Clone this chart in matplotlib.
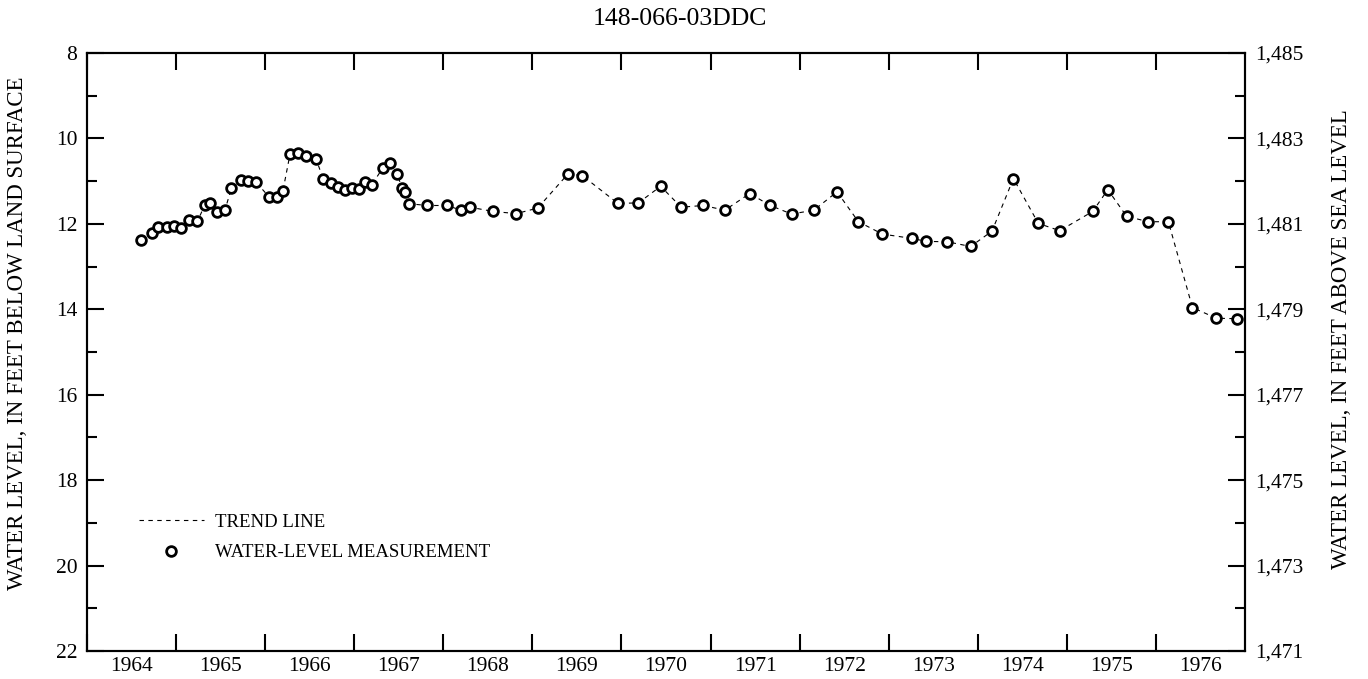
import numpy as np
import matplotlib
matplotlib.use('Agg')
import matplotlib.pyplot as plt
from matplotlib.ticker import FixedLocator, FuncFormatter, MultipleLocator

plt.rcParams['font.family'] = ['Liberation Serif', 'DejaVu Serif']

# 측정 시점 (소수 연도) 과 지하수위 (지표면 아래 ft)
dates = [1964.61, 1964.73, 1964.80, 1964.90, 1964.98, 1965.06, 1965.14, 1965.24,
         1965.32, 1965.38, 1965.46, 1965.55, 1965.62, 1965.73, 1965.81, 1965.90,
         1966.04, 1966.13, 1966.20, 1966.28, 1966.37, 1966.46, 1966.57, 1966.65,
         1966.74, 1966.82, 1966.90, 1966.97, 1967.05, 1967.12, 1967.20, 1967.32,
         1967.40, 1967.48, 1967.54, 1967.57, 1967.62, 1967.82, 1968.04, 1968.20,
         1968.30, 1968.56, 1968.82, 1969.06, 1969.40, 1969.56, 1969.96, 1970.19,
         1970.44, 1970.67, 1970.92, 1971.16, 1971.44, 1971.67, 1971.91, 1972.16,
         1972.42, 1972.66, 1972.93, 1973.26, 1973.42, 1973.66, 1973.92, 1974.16,
         1974.40, 1974.68, 1974.92, 1975.29, 1975.46, 1975.67, 1975.91, 1976.14,
         1976.41, 1976.68, 1976.91]
depth = [12.37, 12.21, 12.07, 12.07, 12.06, 12.10, 11.90, 11.94,
         11.57, 11.50, 11.73, 11.67, 11.17, 10.97, 10.99, 11.03,
         11.36, 11.36, 11.22, 10.36, 10.34, 10.42, 10.47, 10.94,
         11.05, 11.14, 11.20, 11.15, 11.19, 11.01, 11.08, 10.69,
         10.58, 10.83, 11.17, 11.25, 11.53, 11.57, 11.57, 11.68,
         11.61, 11.71, 11.76, 11.63, 10.83, 10.87, 11.52, 11.51,
         11.12, 11.61, 11.57, 11.68, 11.29, 11.57, 11.77, 11.68,
         11.25, 11.95, 12.24, 12.34, 12.41, 12.42, 12.53, 12.17,
         10.94, 11.99, 12.16, 11.71, 11.20, 11.82, 11.95, 11.95,
         13.96, 14.21, 14.22]
years = list(range(1964, 1977))
elev_ticks = list(range(1471, 1486, 2))
land_surface = 1493  # 해발 고도 (ft)

fig = plt.figure(figsize=(13.68, 6.79), dpi=100)
ax = fig.add_axes([87/1368, 1 - 651/679, (1245 - 87)/1368, (651 - 53)/679])

trend, = ax.plot(dates, depth, color='black', lw=0.8, ls=(0, (4, 4)), label='TREND LINE')
meas, = ax.plot(dates, depth, ls='none', marker='o', ms=7, mfc='white',
                mec='black', mew=2.0, label='WATER-LEVEL MEASUREMENT')

ax.set_xlim(years[0], years[-1] + 1)
ax.set_ylim(22, 8)
ax.xaxis.set_major_locator(FixedLocator(years))
ax.xaxis.set_major_formatter(FuncFormatter(lambda v, p: ''))
ax.xaxis.set_minor_locator(FixedLocator([y + 0.5 for y in years]))
ax.xaxis.set_minor_formatter(FuncFormatter(lambda v, p: str(int(v))))
ax.tick_params(axis='x', which='major', direction='in', length=12, width=1.5, top=True)
ax.tick_params(axis='x', which='minor', length=0, labelsize=15.5, pad=4)

ax.yaxis.set_major_locator(MultipleLocator(2))
ax.yaxis.set_minor_locator(MultipleLocator(1))
ax.tick_params(axis='y', which='major', direction='in', length=12, width=1.5, labelsize=15.5, pad=7)
ax.tick_params(axis='y', which='minor', direction='in', length=7, width=1.5)
for s in ax.spines.values():
    s.set_linewidth(1.5)
ax.set_ylabel('WATER LEVEL, IN FEET BELOW LAND SURFACE', fontsize=16.5, labelpad=20)
ax.yaxis.label.set_y(0.532)

ax2 = ax.twinx()
ax2.set_ylim(land_surface - 22, land_surface - 8)
ax2.yaxis.set_major_locator(FixedLocator(elev_ticks))
ax2.yaxis.set_minor_locator(MultipleLocator(1))
ax2.yaxis.set_major_formatter(FuncFormatter(lambda v, p: f'{int(v):,}'))
ax2.tick_params(axis='y', which='major', direction='in', length=12, width=1.5, labelsize=15.5, pad=7)
ax2.tick_params(axis='y', which='minor', direction='in', length=7, width=1.5)
for s in ax2.spines.values():
    s.set_linewidth(1.5)
ax2.set_ylabel('WATER LEVEL, IN FEET ABOVE SEA LEVEL', fontsize=16.5, labelpad=20)
ax2.yaxis.label.set_y(0.522)

fig.text(680/1368, 1 - 19/679, '148-066-03DDC', fontsize=18.5, ha='center', va='center')

ax.legend(handles=[trend, meas], loc='upper left', bbox_to_anchor=(0.038, 0.242),
          frameon=False, fontsize=13.5, handlelength=3.5, handletextpad=0.6,
          labelspacing=0.7, borderaxespad=0)

fig.savefig('out.png', dpi=100)
